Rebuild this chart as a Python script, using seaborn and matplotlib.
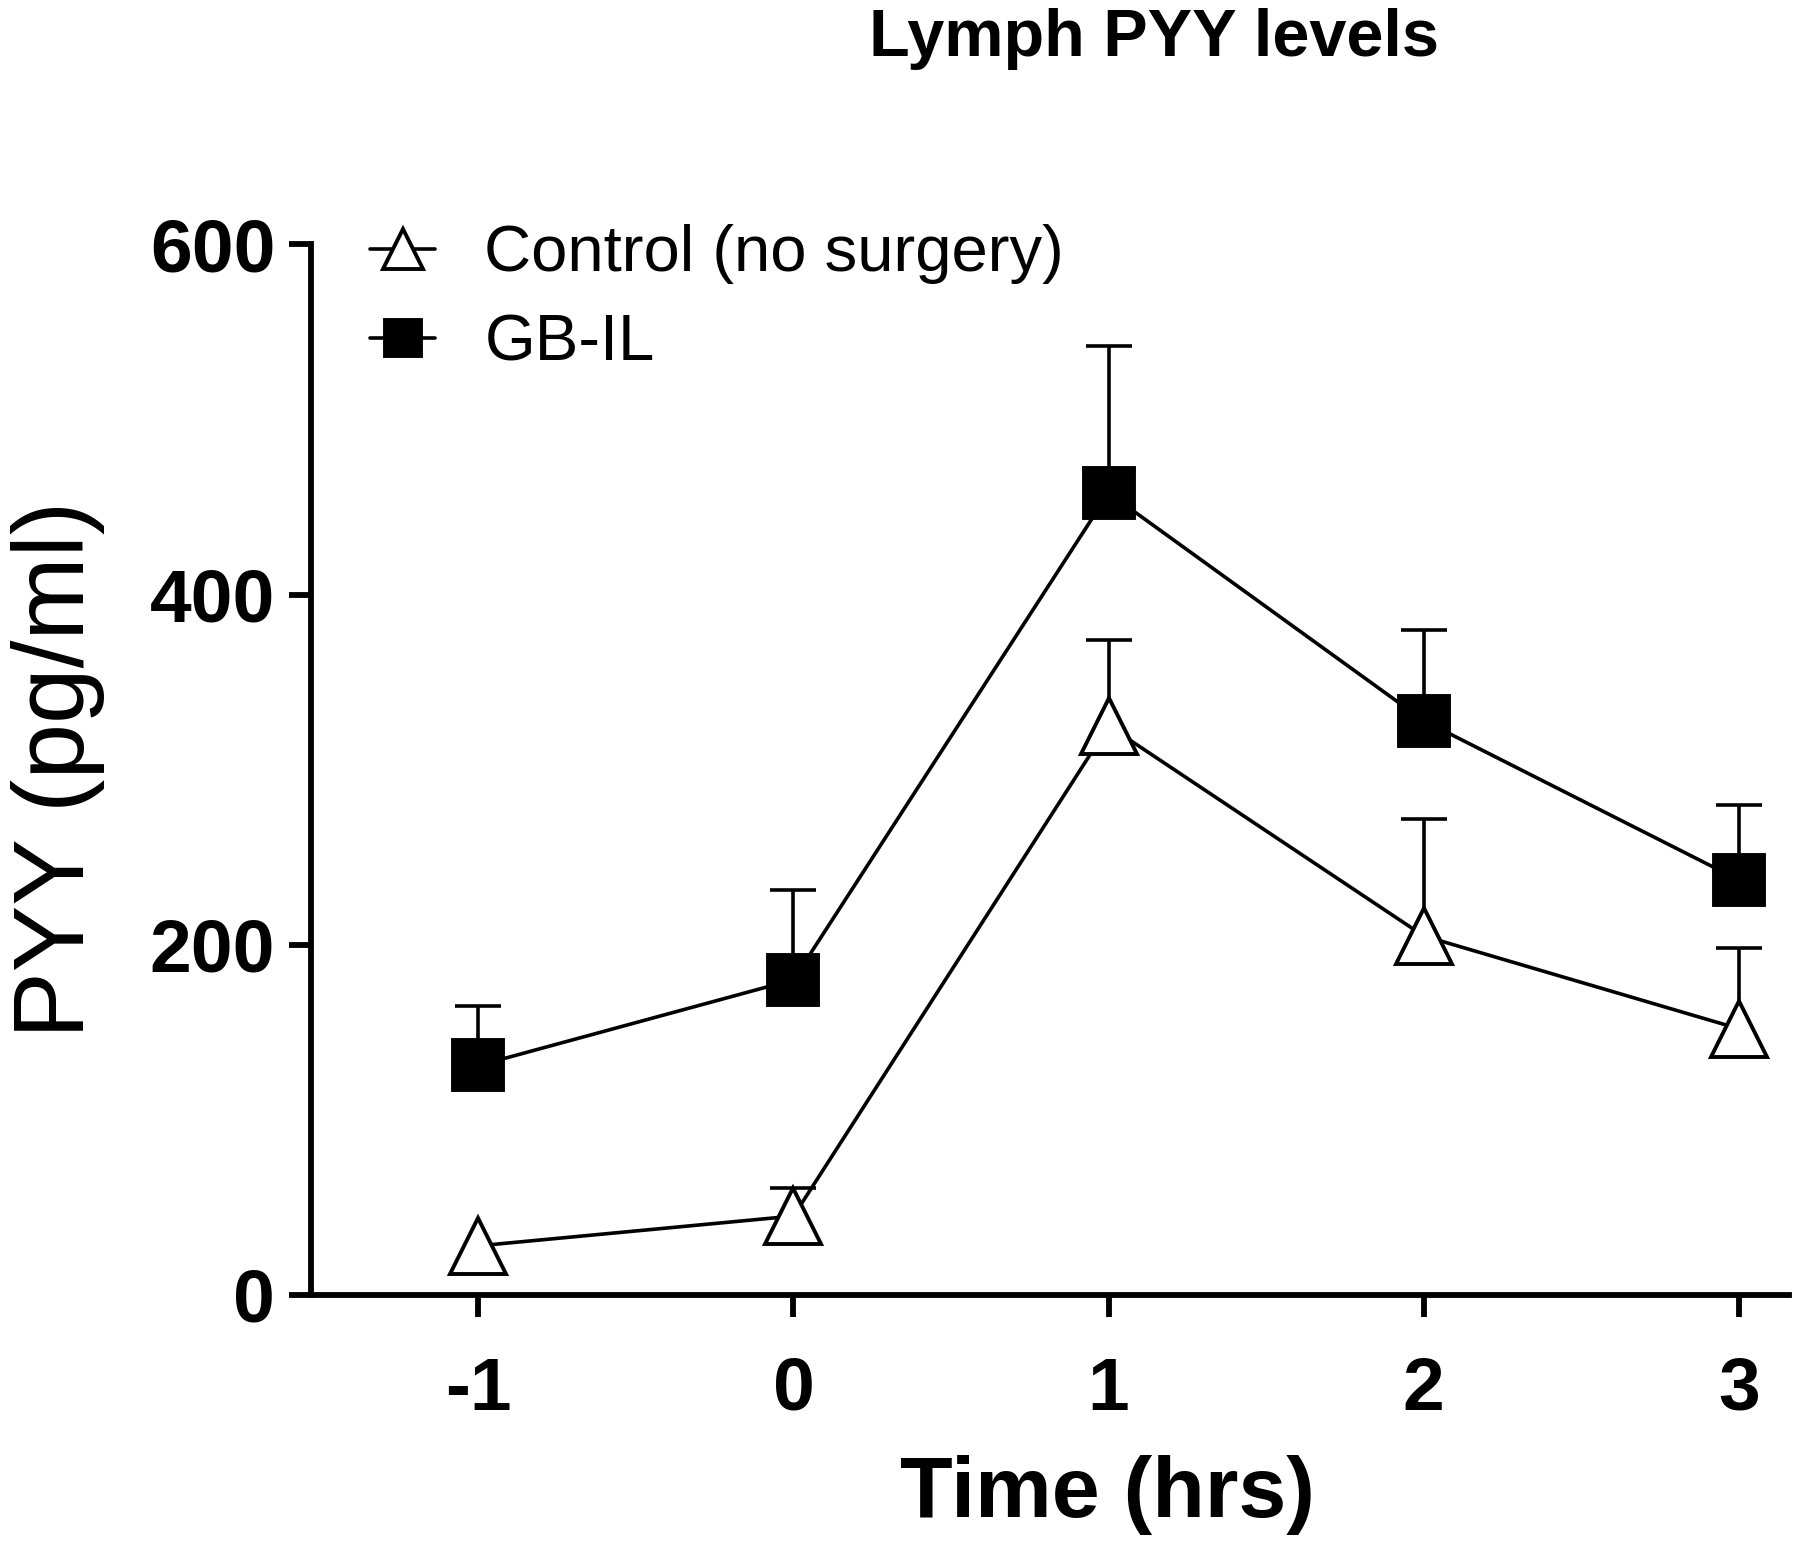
import numpy as np
import pandas as pd
import matplotlib
matplotlib.use("Agg")
import matplotlib.pyplot as plt
import seaborn as sns

# Data
time_hrs = [-1, 0, 1, 2, 3]
control_mean = [28, 45, 325, 205, 152]
control_err = [0, 16, 49, 67, 46]
gbil_mean = [131, 180, 458, 328, 237]
gbil_err = [34, 51, 84, 52, 43]

sns.set_style("ticks")
plt.rcParams["font.family"] = ["Liberation Sans", "DejaVu Sans"]
plt.rcParams["axes.unicode_minus"] = False
for k in ["text.color", "axes.labelcolor", "xtick.color", "ytick.color", "axes.edgecolor"]:
    plt.rcParams[k] = "black"

fig = plt.figure(figsize=(18, 15.47), dpi=100)
ax = fig.add_axes([0.173, 0.163, 0.821, 0.679])

series = [
    ("Control (no surgery)", control_mean, control_err, "^", "white", 40),
    ("GB-IL", gbil_mean, gbil_err, "s", "black", 36),
]

for name, mean, err, mk, face, ms in series:
    df = pd.DataFrame({"Time": time_hrs, "PYY": mean, "err": err})
    # one-sided (upper) error bars only where there is an error, lower cap hidden
    e = df[df["err"] > 0]
    _, caps, _ = ax.errorbar(e["Time"], e["PYY"], yerr=[np.zeros(len(e)), e["err"]],
                             fmt="none", ecolor="black", elinewidth=2.6, capsize=16.5,
                             capthick=2.6, zorder=2)
    caps[0].set_visible(False)
    sns.lineplot(data=df, x="Time", y="PYY", ax=ax, color="black", linewidth=2.6,
                 marker=mk, markersize=ms, markerfacecolor=face,
                 markeredgecolor="black", markeredgewidth=2.8, label=name, zorder=3)

ax.set_xlim(-1.53, 3.16)
ax.set_ylim(0, 600)
ax.set_xticks(time_hrs)
ax.set_yticks([0, 200, 400, 600])
ax.tick_params(axis="both", length=16, width=4.2, labelsize=54)
ax.tick_params(axis="x", pad=28)
ax.tick_params(axis="y", pad=10)
for lab in ax.get_xticklabels() + ax.get_yticklabels():
    lab.set_fontweight("bold")
for s in ["left", "bottom"]:
    ax.spines[s].set_linewidth(4.2)
sns.despine(ax=ax)

ax.set_xlabel("Time (hrs)", fontsize=62, fontweight="bold")
ax.xaxis.set_label_coords(0.539, -0.152)
ax.set_ylabel("PYY (pg/ml)", fontsize=72, labelpad=32)
fig.text(0.641, 0.975, "Lymph PYY levels", fontsize=48, fontweight="bold",
         ha="center", va="center")

leg = ax.legend(loc="upper left", bbox_to_anchor=(0.0, 1.075), frameon=False,
                fontsize=47, handlelength=1.0, handletextpad=0.75,
                labelspacing=0.45, markerscale=0.72)

fig.savefig("out.png", dpi=100)
